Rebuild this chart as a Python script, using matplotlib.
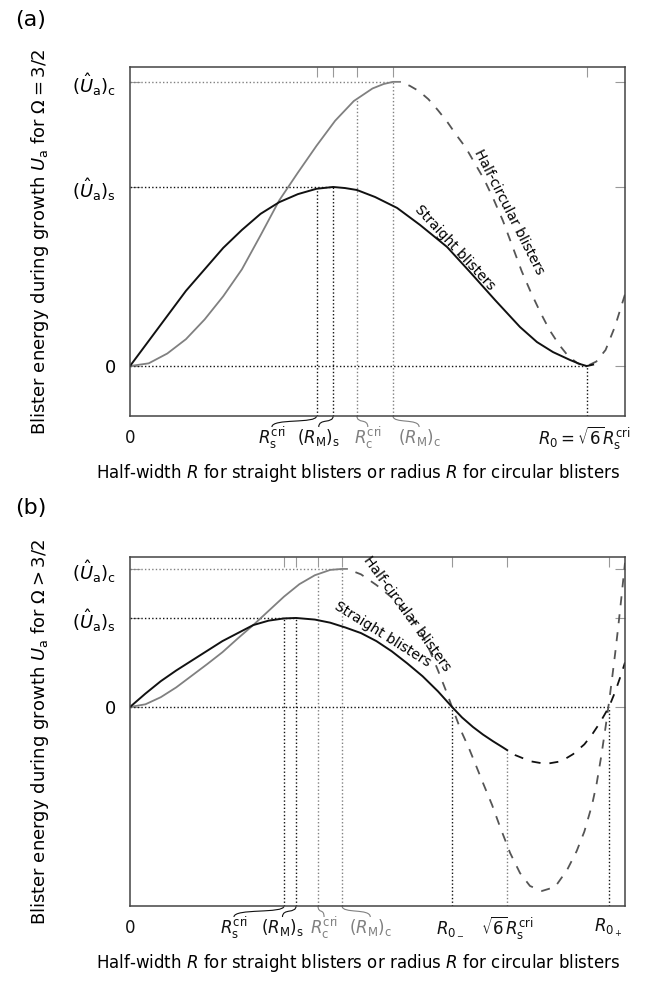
import matplotlib
matplotlib.use("Agg")
import matplotlib.pyplot as plt
from matplotlib.path import Path
from matplotlib.patches import PathPatch
import matplotlib.transforms as mtransforms

plt.rcParams['font.family'] = ['DejaVu Sans']
plt.rcParams['mathtext.fontset'] = 'dejavusans'

# ---------------- panel (a): Omega = 3/2 ----------------
# x in units of R_s^cri, y in units of (U_a)_s
a_Rs_cri, a_RM_s, a_Rc_cri, a_RM_c, a_R0 = 1.0, 1.089, 1.217, 1.41, 2.449
a_Us, a_Uc = 1.0, 1.587

a_straight_x = [0, 0.05, 0.1, 0.2, 0.3, 0.4, 0.5, 0.6, 0.7, 0.8, 0.9, 1.0, 1.089,
                1.153, 1.217, 1.314, 1.432, 1.555, 1.700, 1.823, 1.957, 2.091,
                2.182, 2.268, 2.359, 2.413, 2.449, 2.483]
a_straight_y = [0, 0.07, 0.14, 0.28, 0.42, 0.54, 0.66, 0.76, 0.85, 0.915, 0.96, 0.99, 1.0,
                0.994, 0.983, 0.944, 0.883, 0.788, 0.665, 0.525, 0.369, 0.218,
                0.134, 0.078, 0.034, 0.011, 0.0, 0.008]

a_circ_x = [0, 0.1, 0.2, 0.3, 0.4, 0.5, 0.6, 0.7, 0.8, 0.9, 1.0, 1.1, 1.2, 1.3,
            1.36, 1.41, 1.448]
a_circ_y = [0, 0.015, 0.07, 0.15, 0.26, 0.39, 0.54, 0.73, 0.925, 1.08, 1.23, 1.37, 1.48, 1.55,
            1.575, 1.587, 1.587]

a_half_x = [1.448, 1.5, 1.55, 1.6, 1.65, 1.7, 1.75, 1.8, 1.85, 1.9, 1.95, 2.0, 2.05,
            2.1, 2.15, 2.2, 2.25, 2.3, 2.35, 2.4, 2.45, 2.5, 2.55, 2.6, 2.654]
a_half_y = [1.587, 1.565, 1.535, 1.49, 1.43, 1.365, 1.29, 1.22, 1.13, 1.04, 0.93, 0.81, 0.67,
            0.53, 0.41, 0.30, 0.20, 0.12, 0.055, 0.015, 0.0, 0.025, 0.09, 0.22, 0.40]

# ---------------- panel (b): Omega > 3/2 ----------------
b_Rs_cri, b_RM_s, b_Rc_cri, b_RM_c = 1.0, 1.078, 1.221, 1.377
b_R0m, b_sq6, b_R0p = 2.091, 2.449, 3.110
b_Us, b_Uc = 1.0, 1.551

b_straight_x = [0, 0.05, 0.1, 0.2, 0.3, 0.4, 0.5, 0.6, 0.7, 0.8, 0.9, 1.0, 1.078,
                1.2, 1.3, 1.4, 1.5, 1.6, 1.7, 1.8, 1.9, 2.0, 2.091,
                2.156, 2.227, 2.292, 2.357, 2.422, 2.449]
b_straight_y = [0, 0.075, 0.15, 0.29, 0.41, 0.52, 0.63, 0.74, 0.83, 0.92, 0.97, 0.995, 1.0,
                0.982, 0.947, 0.892, 0.83, 0.74, 0.625, 0.49, 0.345, 0.175, 0.0,
                -0.118, -0.225, -0.31, -0.385, -0.455, -0.485]

b_straight_dash_x = [2.449, 2.5, 2.6, 2.7, 2.8, 2.877, 2.95, 3.0, 3.05, 3.11, 3.15, 3.19, 3.214]
b_straight_dash_y = [-0.485, -0.54, -0.61, -0.64, -0.61, -0.53, -0.42, -0.31, -0.18, 0.0, 0.17, 0.37, 0.50]

b_circ_x = [0, 0.1, 0.2, 0.3, 0.4, 0.5, 0.6, 0.7, 0.8, 0.9, 1.0, 1.1, 1.2, 1.3,
            1.377, 1.409]
b_circ_y = [0, 0.03, 0.11, 0.22, 0.35, 0.48, 0.615, 0.77, 0.92, 1.08, 1.24, 1.38, 1.48, 1.54,
            1.551, 1.551]

b_half_x = [1.409, 1.5, 1.6, 1.7, 1.8, 1.85, 1.9, 1.95, 2.0, 2.05, 2.091, 2.15, 2.2,
            2.24, 2.292, 2.351, 2.403, 2.468, 2.532, 2.597, 2.675, 2.760, 2.838, 2.9,
            2.95, 3.0, 3.03, 3.06, 3.09, 3.11, 3.13, 3.15, 3.17, 3.19, 3.214]
b_half_y = [1.551, 1.49, 1.37, 1.23, 1.06, 0.95, 0.80, 0.62, 0.41, 0.19, 0.0, -0.27, -0.46,
            -0.63, -0.854, -1.101, -1.348, -1.640, -1.865, -2.011, -2.067, -2.022, -1.831, -1.62,
            -1.40, -1.10, -0.86, -0.55, -0.20, 0.05, 0.32, 0.60, 0.90, 1.22, 1.62]

BLACK = '#111111'
GRAY = '#808080'
DGRAY = '#555555'
DOT = (0, (1, 1.6))
DASH = (5, (5, 5))   # start with a gap so the dashes detach from the solid part
FS = 12

fig = plt.figure(figsize=(6.6, 9.82), dpi=100)
W, H = 660.0, 982.0
ax_a = fig.add_axes([130 / W, 1 - 416 / H, 495 / W, 349 / H])
ax_b = fig.add_axes([130 / W, 1 - 906 / H, 495 / W, 349 / H])


def style_axes(ax, xlim, ylim, xt, yt, ylabels):
    ax.set_xlim(*xlim)
    ax.set_ylim(*ylim)
    for s in ax.spines.values():
        s.set_color('#444444')
        s.set_linewidth(1.1)
    ax.set_xticks(xt)
    ax.set_yticks(yt, ylabels, fontsize=13)
    ax.tick_params(axis='x', direction='in', top=True, bottom=False,
                   labelbottom=False, length=7, color='#999999')
    ax.tick_params(axis='y', direction='in', left=True, right=True,
                   length=7, color='#999999', pad=10)


def vdot(ax, x, ytop, color):
    ax.plot([x, x], [ax.get_ylim()[0], ytop], ls=DOT, color=color, lw=1.0)


def hdot(ax, y, xend, color):
    ax.plot([0, xend], [y, y], ls=DOT, color=color, lw=1.0)


def xlabel_item(ax, xline, xtext, text, color, brace=True):
    trans = mtransforms.blended_transform_factory(ax.transData, ax.transAxes)
    ax.text(xtext, -0.062, text, transform=trans, ha='center', va='center',
            fontsize=FS, color=color, clip_on=False)
    if brace:
        d = 1 / 349.0
        verts = [(xline, 0), (xline, -8 * d), (xtext, -2 * d), (xtext, -11 * d)]
        codes = [Path.MOVETO, Path.CURVE4, Path.CURVE4, Path.CURVE4]
        ax.add_patch(PathPatch(Path(verts, codes), fc='none', ec=color, lw=0.8,
                               transform=trans, clip_on=False))


Uc_lab = r'$(\hat{U}_\mathrm{a})_\mathrm{c}$'
Us_lab = r'$(\hat{U}_\mathrm{a})_\mathrm{s}$'
Rs_lab = r'$R_\mathrm{s}^\mathrm{cri}$'
RMs_lab = r'$(R_\mathrm{M})_\mathrm{s}$'
Rc_lab = r'$R_\mathrm{c}^\mathrm{cri}$'
RMc_lab = r'$(R_\mathrm{M})_\mathrm{c}$'
xlab = r'Half-width $R$ for straight blisters or radius $R$ for circular blisters'

# ---- panel (a)
ax = ax_a
style_axes(ax, (0, 2.654), (-0.279, 1.670),
           [a_Rs_cri, a_RM_s, a_Rc_cri, a_RM_c, a_R0],
           [0, a_Us, a_Uc], ['$0$', Us_lab, Uc_lab])
hdot(ax, a_Uc, a_RM_c, GRAY)
hdot(ax, a_Us, a_RM_s, BLACK)
hdot(ax, 0, a_R0, BLACK)
vdot(ax, a_Rs_cri, 0.99, BLACK)
vdot(ax, a_RM_s, a_Us, BLACK)
vdot(ax, a_Rc_cri, 1.49, GRAY)
vdot(ax, a_RM_c, a_Uc, GRAY)
vdot(ax, a_R0, 0, BLACK)
ax.plot(a_circ_x, a_circ_y, color=GRAY, lw=1.3)
ax.plot(a_half_x, a_half_y, color=DGRAY, lw=1.3, ls=DASH)
ax.plot(a_straight_x, a_straight_y, color=BLACK, lw=1.4)
ax.text(1.74, 0.66, 'Straight blisters', rotation=-47, rotation_mode='anchor',
        ha='center', va='center', fontsize=10)
ax.text(2.03, 0.86, 'Half-circular blisters', rotation=-63, rotation_mode='anchor',
        ha='center', va='center', fontsize=10)
xlabel_item(ax, 0, 0, '$0$', BLACK, brace=False)
xlabel_item(ax, a_Rs_cri, 0.761, Rs_lab, BLACK)
xlabel_item(ax, a_RM_s, 1.012, RMs_lab, BLACK)
xlabel_item(ax, a_Rc_cri, 1.275, Rc_lab, GRAY)
xlabel_item(ax, a_RM_c, 1.55, RMc_lab, GRAY)
xlabel_item(ax, a_R0, 2.434, r'$R_0 = \sqrt{6}R_\mathrm{s}^\mathrm{cri}$', BLACK, brace=False)
ax.set_xlabel(xlab, fontsize=FS)
ax.xaxis.set_label_coords(0.46, -0.163)
ax.xaxis.label.set_va('center')
ax.set_ylabel(r'Blister energy during growth $U_\mathrm{a}$ for $\Omega = 3/2$', fontsize=13)
ax.yaxis.set_label_coords(-0.16, 0.5)

# ---- panel (b)
ax = ax_b
style_axes(ax, (0, 3.214), (-2.236, 1.685),
           [b_Rs_cri, b_RM_s, b_Rc_cri, b_RM_c, b_R0m, b_sq6, b_R0p],
           [0, b_Us, b_Uc], ['$0$', Us_lab, Uc_lab])
hdot(ax, b_Uc, b_RM_c, GRAY)
hdot(ax, b_Us, b_RM_s, BLACK)
hdot(ax, 0, b_R0p, BLACK)
vdot(ax, b_Rs_cri, 0.995, BLACK)
vdot(ax, b_RM_s, b_Us, BLACK)
vdot(ax, b_Rc_cri, 1.49, GRAY)
vdot(ax, b_RM_c, b_Uc, GRAY)
vdot(ax, b_R0m, 0, BLACK)
vdot(ax, b_sq6, -0.485, GRAY)
vdot(ax, b_R0p, 0, BLACK)
ax.plot(b_circ_x, b_circ_y, color=GRAY, lw=1.3)
ax.plot(b_half_x, b_half_y, color=DGRAY, lw=1.3, ls=DASH)
ax.plot(b_straight_dash_x, b_straight_dash_y, color=BLACK, lw=1.3, ls=DASH)
ax.plot(b_straight_x, b_straight_y, color=BLACK, lw=1.4)
ax.text(1.64, 0.82, 'Straight blisters', rotation=-32, rotation_mode='anchor',
        ha='center', va='center', fontsize=10)
ax.text(1.80, 1.05, 'Half-circular blisters', rotation=-54, rotation_mode='anchor',
        ha='center', va='center', fontsize=10)
xlabel_item(ax, 0, 0, '$0$', BLACK, brace=False)
xlabel_item(ax, b_Rs_cri, 0.675, Rs_lab, BLACK)
xlabel_item(ax, b_RM_s, 0.99, RMs_lab, BLACK)
xlabel_item(ax, b_Rc_cri, 1.26, Rc_lab, GRAY)
xlabel_item(ax, b_RM_c, 1.56, RMc_lab, GRAY)
xlabel_item(ax, b_R0m, 2.078, r'$R_{0_-}$', BLACK, brace=False)
xlabel_item(ax, b_sq6, 2.448, r'$\sqrt{6}R_\mathrm{s}^\mathrm{cri}$', BLACK, brace=False)
xlabel_item(ax, b_R0p, 3.104, r'$R_{0_+}$', BLACK, brace=False)
ax.set_xlabel(xlab, fontsize=FS)
ax.xaxis.set_label_coords(0.46, -0.163)
ax.xaxis.label.set_va('center')
ax.set_ylabel(r'Blister energy during growth $U_\mathrm{a}$ for $\Omega > 3/2$', fontsize=13)
ax.yaxis.set_label_coords(-0.16, 0.5)

fig.text(15 / W, 1 - 20 / H, '(a)', fontsize=16, va='center', ha='left')
fig.text(15 / W, 1 - 508 / H, '(b)', fontsize=16, va='center', ha='left')

fig.savefig('out.png', dpi=100)
